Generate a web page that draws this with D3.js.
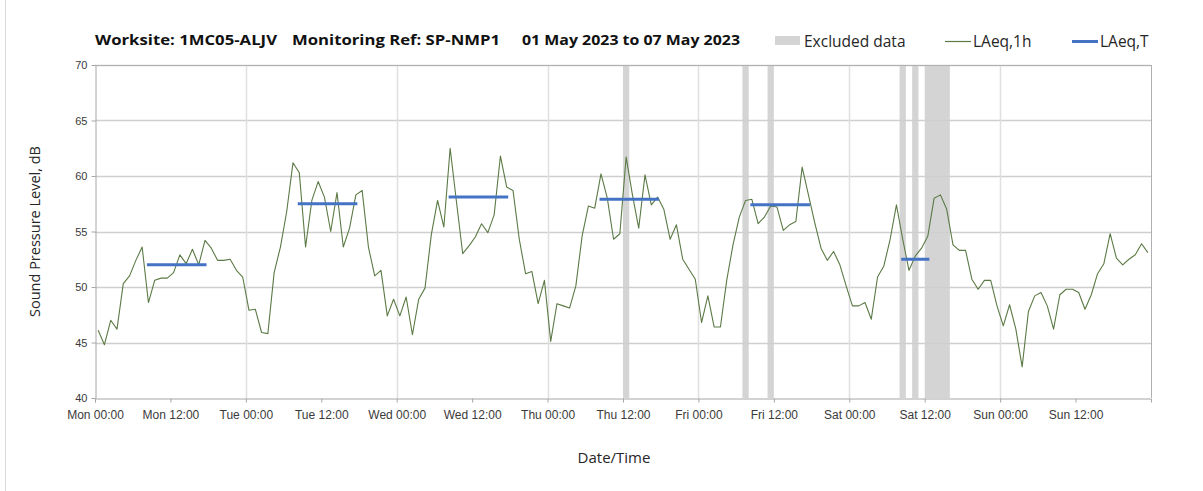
<!DOCTYPE html>
<html>
<head>
<meta charset="utf-8">
<script src="https://cdn.jsdelivr.net/npm/d3@7"></script>
<style>
  body { margin: 0; background: #fff; }
  svg { display: block; font-family: "Open Sans", sans-serif; }
  .tick text { fill: #3a3a3a; font-size: 12px; }
  .axis path, .axis line { stroke: #a6a6a6; }
</style>
</head>
<body>
<svg id="chart" width="1203" height="491"></svg>
<script>
// hourly LAeq,1h values, Mon 01 May 2023 00:00 onwards (one per hour)
var startDate = "2023-05-01T00:00:00";
var endDate = "2023-05-08T00:00:00";
var laeq1h = [
  46.1, 44.8, 47.0, 46.2, 50.3, 51.0, 52.4, 53.6, 48.6, 50.6, 50.8, 50.8,
  51.3, 52.9, 52.1, 53.4, 52.0, 54.2, 53.5, 52.4, 52.4, 52.5, 51.5, 50.9,
  47.9, 48.0, 45.9, 45.8, 51.3, 53.6, 56.8, 61.2, 60.3, 53.6, 57.8, 59.5,
  58.1, 55.0, 58.5, 53.6, 55.3, 58.3, 58.7, 53.6, 51.0, 51.5, 47.4, 48.9,
  47.4, 49.1, 45.7, 48.9, 49.9, 54.7, 57.8, 55.4, 62.5, 57.7, 53.0, 53.7,
  54.5, 55.7, 54.9, 56.5, 61.8, 59.0, 58.7, 54.3, 51.2, 51.4, 48.5, 50.6,
  45.1, 48.5, 48.3, 48.1, 50.1, 54.6, 57.3, 57.1, 60.2, 58.0, 54.3, 54.8,
  61.7, 58.3, 55.3, 60.1, 57.4, 58.1, 57.0, 54.3, 55.6, 52.5, 51.6, 50.7,
  46.8, 49.2, 46.4, 46.4, 50.6, 53.8, 56.3, 57.8, 57.9, 55.7, 56.3, 57.3,
  57.2, 55.1, 55.6, 55.9, 60.8, 58.3, 55.8, 53.5, 52.4, 53.2, 52.0, 50.1,
  48.3, 48.3, 48.6, 47.1, 50.9, 51.9, 54.3, 57.4, 54.3, 51.5, 52.8, 53.5,
  54.6, 58.0, 58.3, 57.0, 53.8, 53.3, 53.3, 50.7, 49.8, 50.6, 50.6, 48.3,
  46.5, 48.4, 46.2, 42.8, 47.8, 49.2, 49.5, 48.3, 46.2, 49.3, 49.8, 49.8,
  49.5, 48.0, 49.3, 51.2, 52.1, 54.8, 52.6, 52.0, 52.5, 52.9, 53.9, 53.1
];

// LAeq,T over each assessment period
var periodFrom = ["2023-05-01T08:00", "2023-05-02T08:00", "2023-05-03T08:00",
                  "2023-05-04T08:00", "2023-05-05T08:00", "2023-05-06T08:00"];
var periodTo = ["2023-05-01T18:00", "2023-05-02T18:00", "2023-05-03T18:00",
                "2023-05-04T18:00", "2023-05-05T18:00", "2023-05-06T13:00"];
var laeqT = [52.0, 57.5, 58.1, 57.9, 57.4, 52.5];

// excluded data windows
var excludedFrom = ["2023-05-04T12:00", "2023-05-05T07:00", "2023-05-05T11:00",
                    "2023-05-06T08:00", "2023-05-06T10:00", "2023-05-06T12:00"];
var excludedTo = ["2023-05-04T13:00", "2023-05-05T08:00", "2023-05-05T12:00",
                  "2023-05-06T09:00", "2023-05-06T11:00", "2023-05-06T16:00"];

var yTicks = [40, 45, 50, 55, 60, 65, 70];

var margin = {top: 65, left: 95, right: 52, bottom: 93};
var width = 1203, height = 491;
var parse = d3.isoParse;
var t0 = parse(startDate);

var svg = d3.select("#chart");

// outer frame edge
svg.append("line")
  .attr("x1", 5.5).attr("x2", 5.5)
  .attr("y1", 0).attr("y2", height)
  .attr("stroke", "#d9d9d9");

var x = d3.scaleTime()
  .domain([t0, parse(endDate)])
  .range([margin.left, width - margin.right]);

var y = d3.scaleLinear()
  .domain([40, 70])
  .range([height - margin.bottom, margin.top]);

// excluded bands
svg.append("g").selectAll("rect")
  .data(excludedFrom)
  .enter().append("rect")
  .attr("x", function(d) { return x(parse(d)); })
  .attr("width", function(d, i) { return x(parse(excludedTo[i])) - x(parse(d)); })
  .attr("y", y(70))
  .attr("height", y(40) - y(70))
  .attr("fill", "#d4d4d4");

// gridlines
svg.append("g").selectAll("line")
  .data(yTicks.slice(1))
  .enter().append("line")
  .attr("x1", x.range()[0]).attr("x2", x.range()[1])
  .attr("y1", function(d) { return Math.round(y(d)) + 0.5; })
  .attr("y2", function(d) { return Math.round(y(d)) + 0.5; })
  .attr("stroke", "#cfcfcf")
  .attr("stroke-width", 1.5);

var days = d3.timeDay.range(d3.timeDay.offset(t0, 1), parse(endDate));
svg.append("g").selectAll("line")
  .data(days)
  .enter().append("line")
  .attr("x1", function(d) { return Math.round(x(d)) + 0.5; })
  .attr("x2", function(d) { return Math.round(x(d)) + 0.5; })
  .attr("y1", y(70)).attr("y2", y(40))
  .attr("stroke", "#e0e0e0")
  .attr("stroke-width", 1.5);

// right border of plot
svg.append("line")
  .attr("x1", x.range()[1] + 0.5).attr("x2", x.range()[1] + 0.5)
  .attr("y1", y(70)).attr("y2", y(40))
  .attr("stroke", "#b0b0b0");

// LAeq,1h line
var line = d3.line()
  .x(function(d, i) { return x(d3.timeMinute.offset(t0, i * 60 + 30)); })
  .y(function(d) { return y(d); });

svg.append("path")
  .datum(laeq1h)
  .attr("fill", "none")
  .attr("stroke", "#5b7a45")
  .attr("stroke-width", 1.1)
  .attr("stroke-linejoin", "round")
  .attr("d", line);

// LAeq,T bars (drawn from first to last hourly point of each period)
svg.append("g").selectAll("line")
  .data(laeqT)
  .enter().append("line")
  .attr("x1", function(d, i) { return x(d3.timeMinute.offset(parse(periodFrom[i]), 30)); })
  .attr("x2", function(d, i) { return x(d3.timeMinute.offset(parse(periodTo[i]), -30)); })
  .attr("y1", function(d) { return y(d); })
  .attr("y2", function(d) { return y(d); })
  .attr("stroke", "#4472c4")
  .attr("stroke-width", 3)
  .attr("stroke-linecap", "square");

// axes
var xTickDates = d3.timeHour.every(12).range(t0, parse(endDate));
var xAxis = d3.axisBottom(x)
  .tickValues(xTickDates)
  .tickFormat(d3.timeFormat("%a %H:%M"))
  .tickSize(4)
  .tickSizeOuter(4);

svg.append("g")
  .attr("class", "axis")
  .attr("transform", "translate(0," + (y(40) + 0.5) + ")")
  .call(xAxis)
  .call(function(g) { g.selectAll(".tick text").attr("dy", "0.95em").attr("y", 9); });

var yAxis = d3.axisLeft(y)
  .tickValues(yTicks)
  .tickSize(4)
  .tickSizeOuter(0);

svg.append("g")
  .attr("class", "axis")
  .attr("transform", "translate(" + (x.range()[0] + 0.5) + ",0)")
  .call(yAxis)
  .call(function(g) { g.selectAll(".tick text").attr("x", -8).style("font-size", "11px"); });

// top edge of plot
svg.append("line")
  .attr("x1", x.range()[0]).attr("x2", x.range()[1] + 0.5)
  .attr("y1", y(70) + 0.5).attr("y2", y(70) + 0.5)
  .attr("stroke", "#b0b0b0");

// axis titles
svg.append("text")
  .attr("transform", "translate(40," + ((y(40) + y(70)) / 2) + ") rotate(-90)")
  .attr("text-anchor", "middle")
  .style("font-size", "14.5px")
  .attr("fill", "#262626")
  .text("Sound Pressure Level, dB");

svg.append("text")
  .attr("x", 614)
  .attr("y", 463)
  .attr("text-anchor", "middle")
  .style("font-size", "15px")
  .attr("fill", "#262626")
  .text("Date/Time");

// title pieces
var titleParts = ["Worksite: 1MC05-ALJV", "Monitoring Ref: SP-NMP1", "01 May 2023 to 07 May 2023"];
var titleX = [95, 292, 522];
var titleW = [182, 208, 218];
svg.append("g").selectAll("text")
  .data(titleParts)
  .enter().append("text")
  .attr("x", function(d, i) { return titleX[i]; })
  .attr("y", 45)
  .attr("textLength", function(d, i) { return titleW[i]; })
  .attr("lengthAdjust", "spacingAndGlyphs")
  .style("font-size", "15px")
  .style("font-weight", "bold")
  .attr("fill", "#111")
  .text(function(d) { return d; });

// legend
var legend = svg.append("g").style("font-size", "15.5px").attr("fill", "#262626");
legend.append("rect")
  .attr("x", 775).attr("y", 36).attr("width", 25).attr("height", 9)
  .attr("fill", "#d4d4d4");
legend.append("text").attr("x", 804).attr("y", 47).text("Excluded data");
legend.append("line")
  .attr("x1", 945).attr("x2", 971).attr("y1", 41.5).attr("y2", 41.5)
  .attr("stroke", "#5b7a45").attr("stroke-width", 1.2);
legend.append("text").attr("x", 973).attr("y", 47).text("LAeq,1h");
legend.append("line")
  .attr("x1", 1072).attr("x2", 1098).attr("y1", 41.5).attr("y2", 41.5)
  .attr("stroke", "#4472c4").attr("stroke-width", 3);
legend.append("text").attr("x", 1100).attr("y", 47).text("LAeq,T");
</script>
</body>
</html>
